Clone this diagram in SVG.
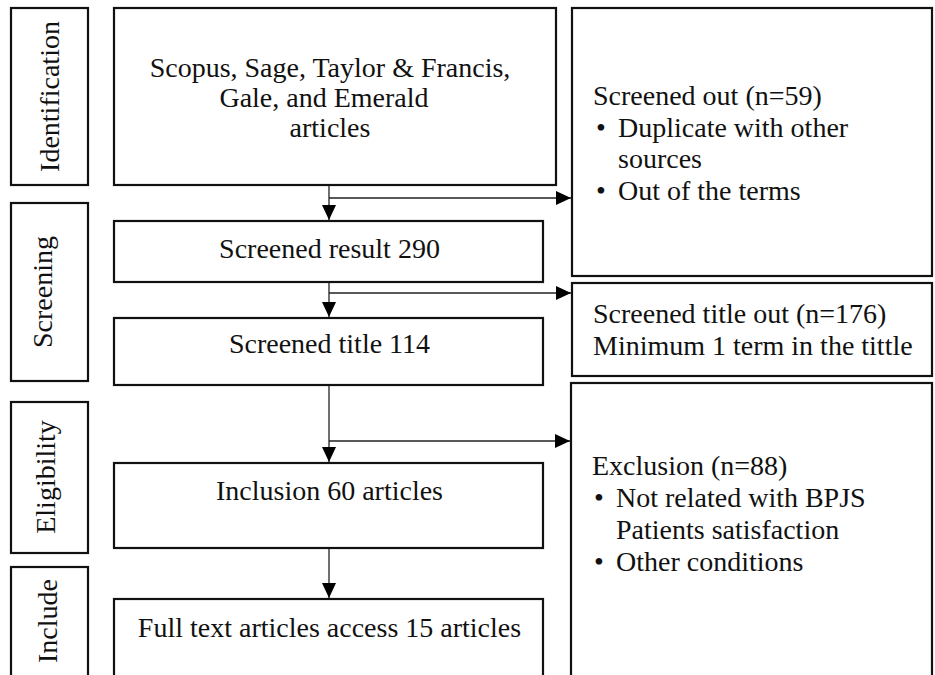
<svg xmlns="http://www.w3.org/2000/svg" width="935" height="675" viewBox="0 0 935 675">
<style>
  .box { fill: #fff; stroke: #111; stroke-width: 2.2; }
  .t { font-family: "Liberation Serif", "DejaVu Serif", serif; font-size: 28px; fill: #111; }
  .c { text-anchor: middle; }
  .line { stroke: #222; stroke-width: 1.3; fill: none; }
</style>
<defs>
  <marker id="arr" markerUnits="userSpaceOnUse" markerWidth="16" markerHeight="16" refX="15" refY="7" orient="auto">
    <path d="M0,0 L15,7 L0,14 z" fill="#000"/>
  </marker>
</defs>
<rect width="935" height="675" fill="#fff"/>

<g id="label-identification">
  <rect class="box" x="11" y="8" width="77" height="177"/>
  <text class="t c" transform="translate(59,96.5) rotate(-90)">Identification</text>
</g>
<g id="label-screening">
  <rect class="box" x="11" y="203" width="77" height="178"/>
  <text class="t c" transform="translate(52,292) rotate(-90)">Screening</text>
</g>
<g id="label-eligibility">
  <rect class="box" x="11" y="402" width="77" height="151"/>
  <text class="t c" transform="translate(55,477) rotate(-90)">Eligibility</text>
</g>
<g id="label-include">
  <rect class="box" x="11" y="567" width="77" height="120"/>
  <text class="t c" transform="translate(57,621) rotate(-90)">Include</text>
</g>

<g id="sources">
  <rect class="box" x="114" y="8" width="442" height="177"/>
  <text class="t c" x="330" y="77">Scopus, Sage, Taylor &amp; Francis,</text>
  <text class="t c" x="324" y="107">Gale, and Emerald</text>
  <text class="t c" x="330" y="137">articles</text>
</g>
<g id="screened-result">
  <rect class="box" x="114" y="221" width="429" height="61"/>
  <text class="t c" x="329.5" y="258">Screened result 290</text>
</g>
<g id="screened-title">
  <rect class="box" x="114" y="318" width="429" height="67"/>
  <text class="t c" x="329.5" y="353">Screened title 114</text>
</g>
<g id="inclusion">
  <rect class="box" x="114" y="463" width="429" height="85"/>
  <text class="t c" x="329.5" y="500">Inclusion 60 articles</text>
</g>
<g id="full-text">
  <rect class="box" x="114" y="599" width="429" height="90"/>
  <text class="t c" x="329.5" y="637">Full text articles access 15 articles</text>
</g>

<g id="screened-out">
  <rect class="box" x="572" y="8" width="360" height="268"/>
  <text class="t" x="593" y="105">Screened out (n=59)</text>
  <text class="t" x="596" y="137">•</text>
  <text class="t" x="618" y="137">Duplicate with other</text>
  <text class="t" x="618" y="168">sources</text>
  <text class="t" x="596" y="200">•</text>
  <text class="t" x="618" y="200">Out of the terms</text>
</g>
<g id="screened-title-out">
  <rect class="box" x="572" y="283" width="360" height="93"/>
  <text class="t" x="593" y="323">Screened title out (n=176)</text>
  <text class="t" x="593" y="355">Minimum 1 term in the tittle</text>
</g>
<g id="exclusion">
  <rect class="box" x="571" y="383" width="361" height="310"/>
  <text class="t" x="592" y="475">Exclusion (n=88)</text>
  <text class="t" x="594" y="507">•</text>
  <text class="t" x="616" y="507">Not related with BPJS</text>
  <text class="t" x="616" y="539">Patients satisfaction</text>
  <text class="t" x="594" y="571">•</text>
  <text class="t" x="616" y="571">Other conditions</text>
</g>

<g id="connectors">
  <line class="line" x1="329" y1="186" x2="329" y2="220" marker-end="url(#arr)"/>
  <line class="line" x1="329" y1="198" x2="571" y2="198" marker-end="url(#arr)"/>
  <line class="line" x1="329" y1="283" x2="329" y2="317" marker-end="url(#arr)"/>
  <line class="line" x1="329" y1="293" x2="571" y2="293" marker-end="url(#arr)"/>
  <line class="line" x1="329" y1="386" x2="329" y2="462" marker-end="url(#arr)"/>
  <line class="line" x1="329" y1="441" x2="570" y2="441" marker-end="url(#arr)"/>
  <line class="line" x1="329" y1="549" x2="329" y2="598" marker-end="url(#arr)"/>
</g>
</svg>
